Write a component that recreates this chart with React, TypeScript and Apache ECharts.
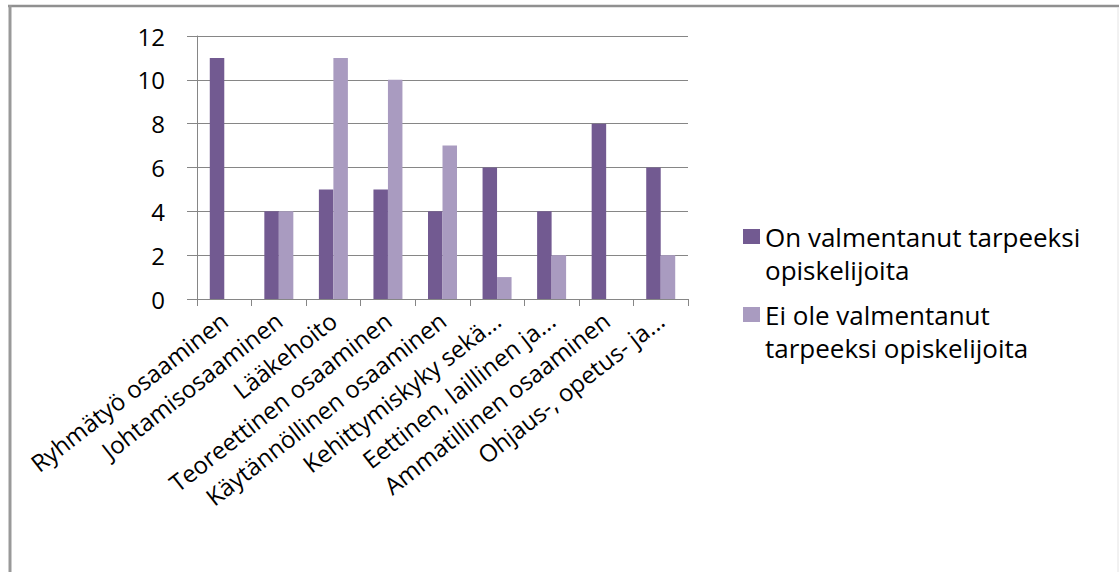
import React, { useEffect, useRef } from "react";
import * as echarts from "echarts";

const categories = [
  "Ryhmätyö osaaminen",
  "Johtamisosaaminen",
  "Lääkehoito",
  "Teoreettinen osaaminen",
  "Käytännöllinen osaaminen",
  "Kehittymiskyky sekä...",
  "Eettinen, laillinen ja...",
  "Ammatillinen osaaminen",
  "Ohjaus-, opetus- ja...",
];
const seriesOn = [11, 4, 5, 5, 4, 6, 4, 8, 6];
const seriesEi = [0, 4, 11, 10, 7, 1, 2, 0, 2];
const seriesNames = [
  "On valmentanut tarpeeksi\nopiskelijoita",
  "Ei ole valmentanut\ntarpeeksi opiskelijoita",
];
const yTicks = { min: 0, max: 12, interval: 2 };

export default function App() {
  const ref = useRef<HTMLDivElement>(null);
  useEffect(() => {
    if (!ref.current) return;
    const chart = echarts.init(ref.current, undefined, { renderer: "svg" });
    const font = "Open Sans";
    const legendText = {
      fontFamily: font,
      fontSize: 26,
      color: "#000",
      lineHeight: 33,
    };
    // square at the top of a tall (2-line) icon box, so it lines up with the first text line
    const legendIcon =
      "path://M0,0 L0.01,0 M0,66 L0.01,66 M0,9 L17,9 L17,24 L0,24 Z";
    const legendBase = {
      orient: "vertical",
      left: 738,
      itemWidth: 17,
      itemHeight: 66,
      icon: legendIcon,
      textStyle: legendText,
    };
    chart.setOption({
      animation: false,
      backgroundColor: "#ffffff",
      textStyle: { fontFamily: font },
      graphic: [
        {
          type: "line",
          shape: { x1: 8, y1: 6, x2: 1119, y2: 6 },
          style: { stroke: "#909090", lineWidth: 2.5 },
          silent: true,
        },
        {
          type: "line",
          shape: { x1: 10, y1: 5, x2: 10, y2: 572 },
          style: { stroke: "#999999", lineWidth: 3 },
          silent: true,
        },
        {
          type: "line",
          shape: { x1: 1118, y1: 7, x2: 1118, y2: 572 },
          style: { stroke: "#e4e4e4", lineWidth: 1 },
          silent: true,
        },
      ],
      legend: [
        { ...legendBase, top: 215, data: [seriesNames[0]] },
        { ...legendBase, top: 293, data: [seriesNames[1]] },
      ],
      grid: { left: 197, right: 431, top: 36, bottom: 273, containLabel: false },
      xAxis: {
        type: "category",
        data: categories,
        axisLine: { lineStyle: { color: "#868686", width: 1 } },
        axisTick: { show: true, length: 7, alignWithLabel: false, lineStyle: { color: "#868686" } },
        axisLabel: {
          rotate: 38,
          interval: 0,
          fontSize: 24,
          color: "#000",
          fontFamily: font,
          margin: 18,
        },
      },
      yAxis: {
        type: "value",
        min: yTicks.min,
        max: yTicks.max,
        interval: yTicks.interval,
        axisLine: { show: true, lineStyle: { color: "#868686", width: 1 } },
        axisTick: { show: true, length: 10, lineStyle: { color: "#868686" } },
        splitLine: { lineStyle: { color: "#868686", width: 1 } },
        axisLabel: { fontSize: 24, color: "#000", fontFamily: font, margin: 32 },
      },
      series: [
        {
          name: seriesNames[0],
          type: "bar",
          data: seriesOn,
          barWidth: 14.5,
          barGap: "0%",
          itemStyle: { color: "#725a91" },
        },
        {
          name: seriesNames[1],
          type: "bar",
          data: seriesEi,
          barWidth: 14.5,
          barGap: "0%",
          itemStyle: { color: "#a99bc0" },
        },
      ],
    });
    return () => chart.dispose();
  }, []);
  return (
    <div
      ref={ref}
      style={{ position: "fixed", left: 0, top: 0, width: 1119, height: 572 }}
    />
  );
}
